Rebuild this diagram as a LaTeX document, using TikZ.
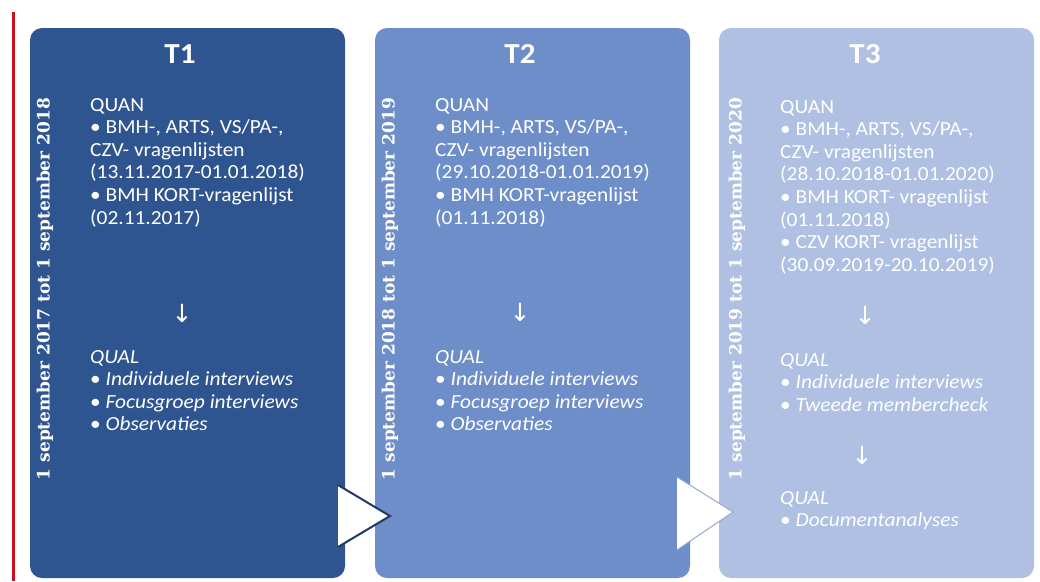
\documentclass[tikz,border=0pt]{standalone}
\usepackage{fontspec}
\setmainfont{Carlito}[FakeStretch=1.07]
\newfontfamily\datefont{DejaVu Serif}
\newfontfamily\arrowfont{DejaVu Sans}
\definecolor{tonedark}{RGB}{47,85,145}
\definecolor{tonemid}{RGB}{110,142,201}
\definecolor{tonelight}{RGB}{175,192,227}
\definecolor{timeline}{RGB}{200,16,30}
\definecolor{tipdark}{RGB}{31,56,100}
\definecolor{tiplight}{RGB}{150,168,205}
\tikzset{
  phase/.style={rounded corners=12pt, minimum width=315pt, minimum height=550pt, inner sep=0pt},
  title/.style={text=white, font=\fontsize{29}{32}\selectfont\bfseries},
  period/.style={text=white, rotate=90, inner sep=0pt, font=\datefont\fontsize{17}{20}\selectfont\bfseries},
  block/.style={text=white, align=left, anchor=north west, inner sep=0pt, font=\fontsize{20}{22.6}\selectfont},
  down/.style={text=white, inner sep=0pt, font=\arrowfont\fontsize{25}{26}\selectfont}
}
\begin{document}
\begin{tikzpicture}[x=1pt,y=-1pt]
  \useasboundingbox (0,0) rectangle (1040,581);
  % time line
  \draw[timeline, line width=3pt] (13,12) -- (13,581);
  % the three phases
  \node[phase, fill=tonedark] (t1) at (187.5,303) {};
  \node[phase, fill=tonemid] (t2) at (532.5,303) {};
  \node[phase, fill=tonelight] (t3) at (876.5,303) {};
  % arrows between the phases
  \fill[white] (338,485) -- (390,516) -- (338,547) -- cycle;
  \draw[tipdark, line width=2pt] (338,485) -- (390,516) -- (338,547);
  \fill[white] (677,477) -- (733,512) -- (677,550) -- cycle;
  \draw[tiplight, line width=1pt] (677,477) -- (733,512) -- (677,550);
  % titles
  \node[title] (t1title) at (180,54) {T1};
  \node[title] (t2title) at (520,54) {T2};
  \node[title] (t3title) at (865,54) {T3};
  % periods
  \node[period] (t1period) at (45,289) {1 september 2017 tot 1 september 2018};
  \node[period] (t2period) at (390,289) {1 september 2018 tot 1 september 2019};
  \node[period] (t3period) at (737,289) {1 september 2019 tot 1 september 2020};
  % T1
  \node[block] (t1quan) at (90,98) {QUAN\\
    • BMH-, ARTS, VS/PA-,\\
    CZV- vragenlijsten\\
    (13.11.2017-01.01.2018)\\
    • BMH KORT-vragenlijst\\
    (02.11.2017)};
  \node[down] (t1down) at (182,313) {↓};
  \node[block] (t1qual) at (90,350) {\itshape QUAL\\
    • \itshape Individuele interviews\\
    • \itshape Focusgroep interviews\\
    • \itshape Observaties};
  % T2
  \node[block] (t2quan) at (435,98) {QUAN\\
    • BMH-, ARTS, VS/PA-,\\
    CZV- vragenlijsten\\
    (29.10.2018-01.01.2019)\\
    • BMH KORT-vragenlijst\\
    (01.11.2018)};
  \node[down] (t2down) at (520,312) {↓};
  \node[block] (t2qual) at (435,350) {\itshape QUAL\\
    • \itshape Individuele interviews\\
    • \itshape Focusgroep interviews\\
    • \itshape Observaties};
  % T3
  \node[block] (t3quan) at (780,100) {QUAN\\
    • BMH-, ARTS, VS/PA-,\\
    CZV- vragenlijsten\\
    (28.10.2018-01.01.2020)\\
    • BMH KORT- vragenlijst\\
    (01.11.2018)\\
    • CZV KORT- vragenlijst\\
    (30.09.2019-20.10.2019)};
  \node[down] (t3down) at (865,315) {↓};
  \node[block] (t3qual) at (780,353) {\itshape QUAL\\
    • \itshape Individuele interviews\\
    • \itshape Tweede membercheck};
  \node[down] (t3next) at (862,455) {↓};
  \node[block] (t3docs) at (780,491) {\itshape QUAL\\
    • \itshape Documentanalyses};
\end{tikzpicture}
\end{document}
